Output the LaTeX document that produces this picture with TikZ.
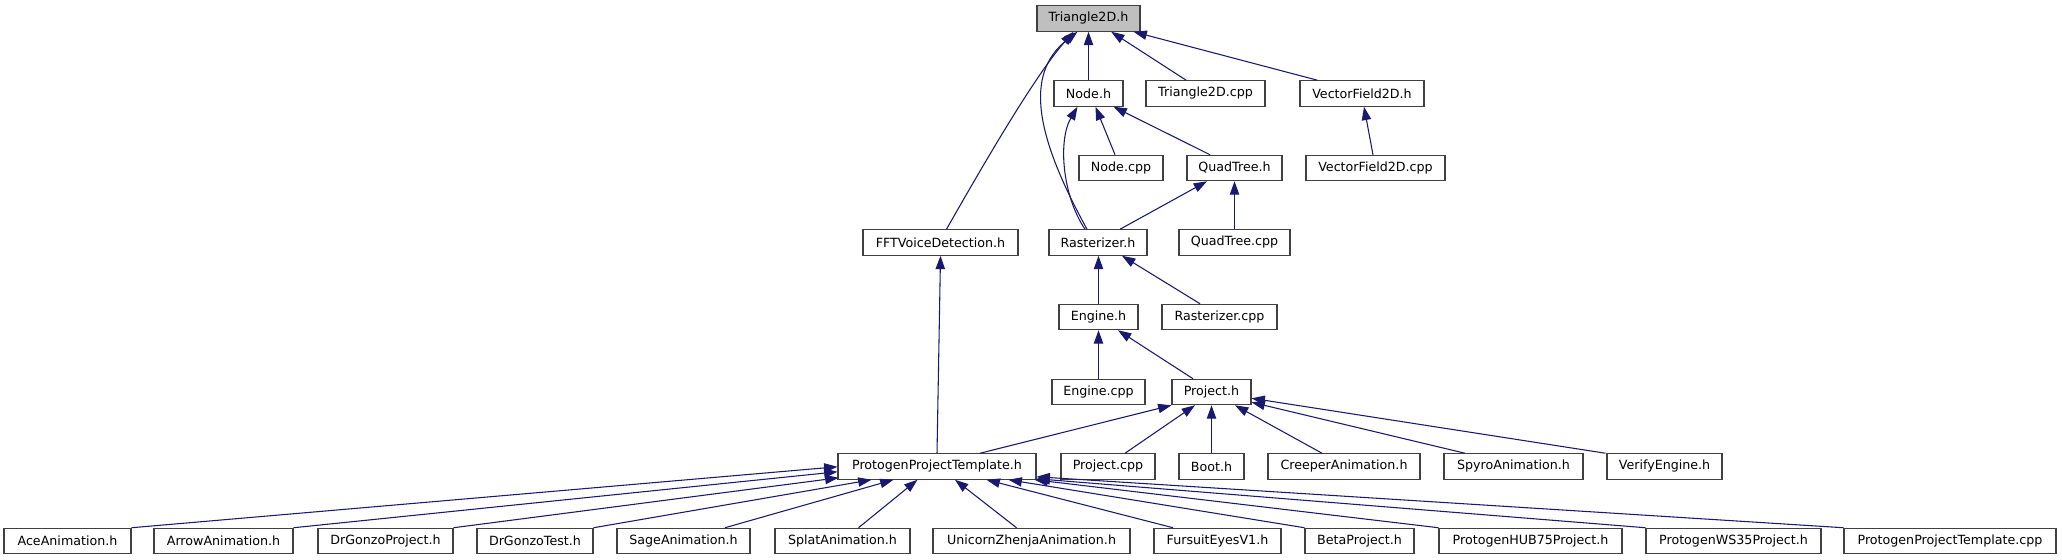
\documentclass[tikz,border=0pt]{standalone}
\usepackage{fontspec}
\setmainfont{DejaVu Sans}
\usetikzlibrary{arrows.meta,calc}
\definecolor{edgeblue}{HTML}{191970}
\definecolor{boxline}{HTML}{404040}
\definecolor{curfill}{HTML}{BFBFBF}
\begin{document}
\begin{tikzpicture}[x=0.75pt,y=-0.75pt,
  box/.style={draw=boxline, line width=0.8pt, fill=white, minimum height=19.1pt,
              inner sep=0pt, font=\fontsize{9.5}{11}\selectfont, anchor=center},
  bw/.style={minimum width=#1*0.75pt},
  edge/.style={draw=edgeblue, line width=0.8pt, -{Triangle[length=10pt,width=7pt]}}]
\useasboundingbox (0,0) rectangle (2062,560);

% row 1
\node[box,bw=103,fill=curfill] (t2d) at (1088.5,18.5) {Triangle2D.h};
% row 2
\node[box,bw=69]  (nodeh)   at (1088.5,93.5) {Node.h};
\node[box,bw=119] (t2dcpp)  at (1205.5,93.5) {Triangle2D.cpp};
\node[box,bw=124] (vf2dh)   at (1362,93.5)   {VectorField2D.h};
% row 3
\node[box,bw=84]  (nodecpp) at (1121,168)    {Node.cpp};
\node[box,bw=95]  (qth)     at (1234.5,168)  {QuadTree.h};
\node[box,bw=139] (vf2dcpp) at (1375.5,168)  {VectorField2D.cpp};
% row 4
\node[box,bw=155] (fft)     at (940.5,242.5) {FFTVoiceDetection.h};
\node[box,bw=98]  (rasth)   at (1098,242.5)  {Rasterizer.h};
\node[box,bw=111] (qtcpp)   at (1234.5,242.5){QuadTree.cpp};
% row 5
\node[box,bw=79]  (engh)    at (1098.5,317)  {Engine.h};
\node[box,bw=115] (rastcpp) at (1219.5,317)  {Rasterizer.cpp};
% row 6
\node[box,bw=93]  (engcpp)  at (1098.5,392)  {Engine.cpp};
\node[box,bw=79]  (projh)   at (1211.5,392)  {Project.h};
% row 7
\node[box,bw=198] (ppth)    at (937,466.5)   {ProtogenProjectTemplate.h};
\node[box,bw=94]  (projcpp) at (1108,466.5)  {Project.cpp};
\node[box,bw=65]  (booth)   at (1211.5,466.5){Boot.h};
\node[box,bw=152] (creeper) at (1344,466.5)  {CreeperAnimation.h};
\node[box,bw=139] (spyro)   at (1513.5,466.5){SpyroAnimation.h};
\node[box,bw=115] (verify)  at (1664.5,466.5){VerifyEngine.h};
% row 8
\node[box,bw=127] (ace)     at (67.5,541)    {AceAnimation.h};
\node[box,bw=139] (arrow)   at (223.5,541)   {ArrowAnimation.h};
\node[box,bw=135] (drgp)    at (385.5,541)   {DrGonzoProject.h};
\node[box,bw=116] (drgt)    at (535,541)     {DrGonzoTest.h};
\node[box,bw=133] (sage)    at (683.5,541)   {SageAnimation.h};
\node[box,bw=135] (splat)   at (842.5,541)   {SplatAnimation.h};
\node[box,bw=197] (unicorn) at (1031.5,541)  {UnicornZhenjaAnimation.h};
\node[box,bw=127] (fursuit) at (1217.5,541)  {FursuitEyesV1.h};
\node[box,bw=109] (beta)    at (1359.5,541)  {BetaProject.h};
\node[box,bw=183] (hub)     at (1530.5,541)  {ProtogenHUB75Project.h};
\node[box,bw=175] (ws)      at (1733.5,541)  {ProtogenWS35Project.h};
\node[box,bw=212] (pptcpp)  at (1950,541)    {ProtogenProjectTemplate.cpp};

% edges into Triangle2D.h
\draw[edge] (nodeh.north) -- (t2d.south);
\draw[edge] ($(t2dcpp.north west)+(40.7,0)$) -- ($(t2d.south west)+(74.7,0)$);
\draw[edge] ($(vf2dh.north west)+(18,0)$) -- ($(t2d.south east)+(-7,0)$);
\draw[edge] ($(fft.north)+(6,0)$) .. controls (1000,135) and (1040,70) .. ($(t2d.south)+(-15,0)$);
\draw[edge] ($(rasth.north)+(-11,0)$) .. controls (1038,140) and (1022,75) .. ($(t2d.south)+(-11,0)$);
% edges into Node.h
\draw[edge] ($(rasth.north)+(-13,0)$) .. controls (1062,195) and (1058,140) .. ($(nodeh.south)+(-11,0)$);
\draw[edge] ($(nodecpp.north)+(-6,0)$) -- ($(nodeh.south)+(7,0)$);
\draw[edge] ($(qth.north)+(-24.5,0)$) -- ($(nodeh.south east)+(-10,0)$);
% QuadTree.h
\draw[edge] ($(rasth.north)+(22,0)$) -- ($(qth.south)+(-27.5,0)$);
\draw[edge] (qtcpp.north) -- (qth.south);
% VectorField2D.h
\draw[edge] ($(vf2dcpp.north)+(-2.5,0)$) -- ($(vf2dh.south)+(2,0)$);
% Rasterizer.h
\draw[edge] (engh.north) -- (engh.north |- rasth.south);
\draw[edge] ($(rastcpp.north)+(-19.5,0)$) -- ($(rasth.south)+(24,0)$);
% FFTVoiceDetection.h
\draw[edge] (ppth.north) -- (fft.south);
% Engine.h
\draw[edge] (engcpp.north) -- (engh.south);
\draw[edge] ($(projh.north)+(-18.5,0)$) -- ($(engh.south)+(19.5,0)$);
% Project.h
\draw[edge] ($(ppth.north)+(43,0)$) -- (projh.south west);
\draw[edge] ($(projcpp.north)+(17,0)$) -- ($(projh.south)+(-16.5,0)$);
\draw[edge] (booth.north) -- (projh.south);
\draw[edge] ($(creeper.north)+(-22,0)$) -- ($(projh.south)+(23.5,0)$);
\draw[edge] ($(spyro.north)+(-48.5,0)$) -- ($(projh.south east)+(0,-3)$);
\draw[edge] ($(verify.north west)+(-1,0)$) -- ($(projh.south east)+(0,-7)$);
% ProtogenProjectTemplate.h
\draw[edge] (ace.north east) -- ($(ppth.south west)+(0,-13)$);
\draw[edge] (arrow.north east) -- ($(ppth.south west)+(0,-8)$);
\draw[edge] (drgp.north east) -- ($(ppth.south west)+(1,-2)$);
\draw[edge] (drgt.north east) -- ($(ppth.south west)+(34,0)$);
\draw[edge] ($(sage.north)+(41.5,0)$) -- ($(ppth.south west)+(56,0)$);
\draw[edge] ($(splat.north)+(16,0)$) -- ($(ppth.south west)+(80,0)$);
\draw[edge] ($(unicorn.north)+(-15,0)$) -- ($(ppth.south)+(18,0)$);
\draw[edge] ($(fursuit.north)+(-44.5,0)$) -- ($(ppth.south east)+(-50,0)$);
\draw[edge] (beta.north west) -- ($(ppth.south east)+(-28,0)$);
\draw[edge] (hub.north west) -- ($(ppth.south east)+(-2,0)$);
\draw[edge] (ws.north west) -- ($(ppth.south east)+(0,-1)$);
\draw[edge] (pptcpp.north west) -- ($(ppth.south east)+(0,-3)$);
\end{tikzpicture}
\end{document}
